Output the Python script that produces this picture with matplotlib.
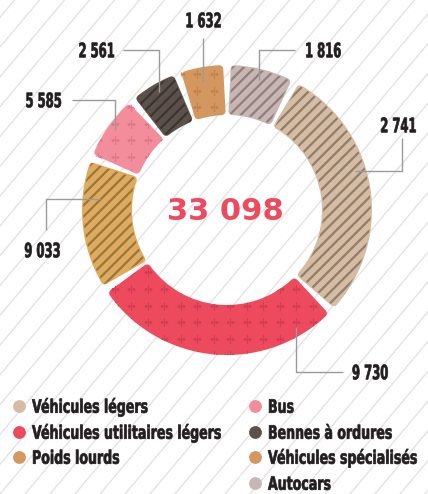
import numpy as np
import matplotlib
matplotlib.use('Agg')
import matplotlib.pyplot as plt
from matplotlib.patches import Wedge, PathPatch
from matplotlib.textpath import TextPath
from matplotlib.font_manager import FontProperties
from matplotlib.transforms import Affine2D

# data, clockwise from the top
categories = ['Autocars', 'Véhicules légers', 'Véhicules utilitaires légers', 'Poids lourds',
              'Bus', 'Bennes à ordures', 'Véhicules spécialisés']
values = [1816, 2741, 9730, 9033, 5585, 2561, 1632]
# visual sweep of each ring segment (degrees)
arc_deg = [28, 106, 103, 54, 28, 21, 20]
colors = ['#C7B6B3', '#D5BCA3', '#EE4A5E', '#DFAC5E', '#F38C9B', '#5B514A', '#D4975F']
pattern = ['stripe', 'stripe', 'cross', 'stripe', 'cross', 'stripe', 'cross']
pattern_colors = ['#8F7F7B', '#8F7D6E', '#D33C52', '#9A7443', '#E0788A', '#3B3430', '#C4834D']

legend_labels = ['Véhicules légers', 'Véhicules utilitaires légers', 'Poids lourds',
                 'Bus', 'Bennes à ordures', 'Véhicules spécialisés', 'Autocars']
legend_colors = ['#D5BCA3', '#EE4A5E', '#D4975F', '#F38C9B', '#5B514A', '#D4975F', '#C7B6B3']

W, H = 428, 494
CX, CY = 227, H - 210
R_OUT, R_IN = 145, 95

plt.rcParams['hatch.linewidth'] = 1.6
bold = FontProperties(family='DejaVu Sans', weight='bold')


def fmt(v):
    return f'{v:,}'.replace(',', ' ')


def narrow_text(ax, x, y, s, size, ha='left', sx=0.6, color='#231F20'):
    # condensed bold text drawn as a path, size in pixels, y is the cap centre
    tp = TextPath((0, 0), s, size=size, prop=bold)
    w = tp.get_extents().x1 * sx
    if ha == 'center':
        x0 = x - w / 2
    elif ha == 'right':
        x0 = x - w
    else:
        x0 = x
    tr = Affine2D().scale(sx, 1).translate(x0, y - 0.73 * size / 2)
    ax.add_patch(PathPatch(tr.transform_path(tp), facecolor=color, edgecolor=color,
                           lw=0.5, zorder=6))


fig = plt.figure(figsize=(W / 100, H / 100), dpi=100)
ax = fig.add_axes([0, 0, 1, 1])
ax.set_xlim(0, W)
ax.set_ylim(0, H)
ax.axis('off')

# light diagonal background lines
slope = np.tan(np.radians(50))
for x0 in np.arange(-500, W + 50, 25):
    ax.plot([x0, x0 + H / slope], [0, H], color='#E3E3E3', lw=1.0, zorder=0)

# ring segments
rc = 4.0  # corner rounding, px
gap = 2.6  # half gap, px
start = 90.0
r_mid = (R_OUT + R_IN) / 2
for i, sweep in enumerate(arc_deg):
    t2 = start
    t1 = start - sweep
    start = t1
    dg = np.degrees(gap / r_mid)
    dr = np.degrees((gap + rc) / r_mid)
    core = Wedge((CX, CY), R_OUT - rc, t1 + dr, t2 - dr, width=R_OUT - R_IN - 2 * rc,
                 facecolor=colors[i], edgecolor=colors[i], lw=2 * rc * 0.72,
                 joinstyle='round', zorder=2)
    ax.add_patch(core)
    if pattern[i] == 'stripe':
        di = np.degrees(1.2 / r_mid)
        h = Wedge((CX, CY), R_OUT - 1.2, t1 + dg + di, t2 - dg - di,
                  width=R_OUT - R_IN - 2.4, facecolor='none', edgecolor=pattern_colors[i],
                  lw=0, hatch='///', zorder=3)
        ax.add_patch(h)
    else:
        gx, gy = np.meshgrid(np.arange(CX - R_OUT, CX + R_OUT, 16.5),
                             np.arange(CY - R_OUT, CY + R_OUT, 16.5))
        sc = ax.scatter(gx.ravel(), gy.ravel(), marker='+', s=40, lw=0.9,
                        color=pattern_colors[i], zorder=3)
        clip = Wedge((CX, CY), R_OUT, t1 + dg, t2 - dg, width=R_OUT - R_IN, transform=ax.transData)
        sc.set_clip_path(clip)

# centre total
ax.text(CX - 2, CY - 1, fmt(sum(values)), ha='center', va='center', fontsize=22,
        fontweight='bold', color='#EE4A5E', family='DejaVu Sans', zorder=5)

# leader lines and value labels (pixel layout, y down)
leaders = [
    [(295, 50), (259, 50), (259, 80)],
    [(402, 138), (402, 171), (355, 171)],
    [(343, 372), (296, 372), (296, 327)],
    [(46, 230), (46, 199), (100, 199)],
    [(72, 100), (115, 100), (115, 130)],
    [(123, 50), (159, 50), (159, 92)],
    [(203, 38), (203, 82)],
]
label_pos = [
    (305, 50, 'left'),
    (398, 125, 'center'),
    (352, 372, 'left'),
    (42, 250, 'center'),
    (61, 100, 'right'),
    (114, 50, 'right'),
    (203, 20, 'center'),
]
for i, v in enumerate(values):
    pts = leaders[i]
    ax.plot([p[0] for p in pts], [H - p[1] for p in pts], color='#9A9A9A', lw=1.0,
            zorder=4, solid_capstyle='butt')
    x, y, ha = label_pos[i]
    narrow_text(ax, x, H - y, fmt(v), 20, ha=ha, sx=0.58)

# legend
leg_x = [19, 255]
leg_y = [406, 432, 457, 483]
for k, lab in enumerate(legend_labels):
    col = 0 if k < 3 else 1
    row = k if k < 3 else k - 3
    ax.scatter(leg_x[col], H - leg_y[row], s=85, color=legend_colors[k], lw=0, zorder=5)
    narrow_text(ax, leg_x[col] + 13, H - leg_y[row], lab, 18.5, ha='left', sx=0.68)

fig.savefig('out.png', dpi=100, facecolor='white')
